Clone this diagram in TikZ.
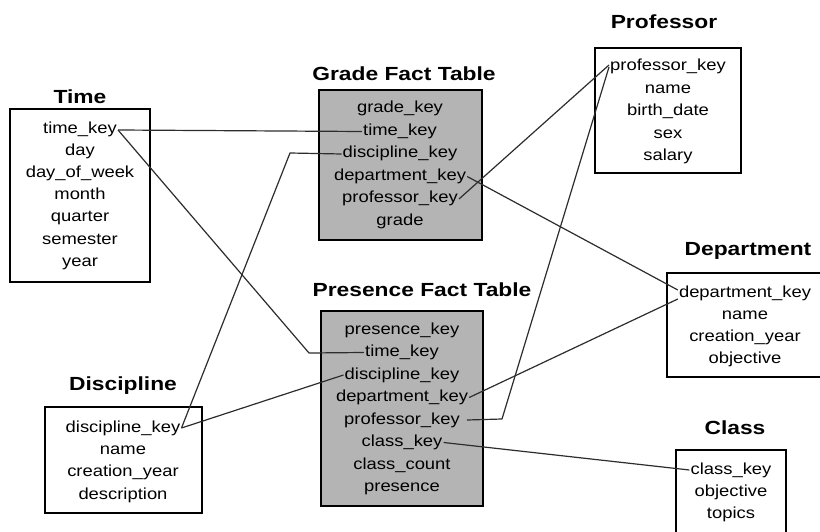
\documentclass[tikz,border=0pt]{standalone}
\usepackage{fontspec}
\setmainfont[FakeStretch=1.15]{Liberation Sans}
\newfontfamily\titlefont[FakeStretch=1.2]{Liberation Sans}
\definecolor{factgray}{RGB}{180,180,180}
\definecolor{linkgray}{RGB}{45,45,45}
\begin{document}
\begin{tikzpicture}[x=1pt,y=-1pt,
  tbl/.style={draw=black, line width=1.3pt, fill=white, inner sep=0pt, outer sep=0pt},
  facttbl/.style={tbl, fill=factgray},
  row/.style={font=\fontsize{16}{18}\selectfont, inner sep=1pt, text height=11.5pt, text depth=3.5pt},
  ttl/.style={font=\titlefont\bfseries\fontsize{19}{21}\selectfont, inner sep=0pt, text height=14pt, text depth=0pt},
  link/.style={draw=linkgray, line width=1.2pt, line join=round}]
\fill[white] (0,0) rectangle (820,532);
\useasboundingbox (0,0) rectangle (820,532);

% ---- Time dimension
\node[ttl] (time-t) at (80,97) {Time};
\node[tbl, minimum width=140pt, minimum height=173pt] (time) at (80,195.5) {};
\node[row] (t-key)  at (80,130) {time\_key};
\node[row] (t-day)  at (80,152) {day};
\node[row] (t-dow)  at (80,174) {day\_of\_week};
\node[row] (t-mon)  at (80,196) {month};
\node[row] (t-qtr)  at (80,218) {quarter};
\node[row] (t-sem)  at (80,240) {semester};
\node[row] (t-year) at (80,262) {year};

% ---- Grade fact table
\node[ttl] (grade-t) at (404,74) {Grade Fact Table};
\node[facttbl, minimum width=163pt, minimum height=150pt] (grade) at (400.5,165) {};
\node[row] (g-key)  at (400,109) {grade\_key};
\node[row] (g-time) at (400,131.5) {time\_key};
\node[row] (g-disc) at (400,154) {discipline\_key};
\node[row] (g-dept) at (400,176.5) {department\_key};
\node[row] (g-prof) at (400,199) {professor\_key};
\node[row] (g-grd)  at (400,221.5) {grade};

% ---- Presence fact table
\node[ttl] (pres-t) at (422,289) {Presence Fact Table};
\node[facttbl, minimum width=162pt, minimum height=195pt] (pres) at (402,408.5) {};
\node[row] (p-key)   at (402,330) {presence\_key};
\node[row] (p-time)  at (402,352.5) {time\_key};
\node[row] (p-disc)  at (402,375) {discipline\_key};
\node[row] (p-dept)  at (402,397.5) {department\_key};
\node[row] (p-prof)  at (402,420) {professor\_key};
\node[row] (p-class) at (402,442.5) {class\_key};
\node[row] (p-count) at (402,465) {class\_count};
\node[row] (p-pres)  at (402,487.5) {presence};

% ---- Professor dimension
\node[ttl] (prof-t) at (664,22) {Professor};
\node[tbl, minimum width=146pt, minimum height=125pt] (prof) at (668,110.5) {};
\node[row] (pr-key)  at (668,67) {professor\_key};
\node[row] (pr-name) at (668,89.5) {name};
\node[row] (pr-bd)   at (668,112) {birth\_date};
\node[row] (pr-sex)  at (668,134.5) {sex};
\node[row] (pr-sal)  at (668,157) {salary};

% ---- Department dimension (runs past the right edge)
\node[ttl] (dept-t) at (748,248) {Department};
\node[tbl, minimum width=170pt, minimum height=104pt] (dept) at (752,325) {};
\node[row] (dp-key)  at (745,293) {department\_key};
\node[row] (dp-name) at (745,315) {name};
\node[row] (dp-cy)   at (745,337) {creation\_year};
\node[row] (dp-obj)  at (745,359) {objective};

% ---- Discipline dimension
\node[ttl] (disc-t) at (123,383) {Discipline};
\node[tbl, minimum width=157pt, minimum height=106pt] (disc) at (123.5,460) {};
\node[row] (d-key)  at (123,428) {discipline\_key};
\node[row] (d-name) at (123,450) {name};
\node[row] (d-cy)   at (123,472.5) {creation\_year};
\node[row] (d-desc) at (123,495) {description};

% ---- Class dimension (runs past the bottom edge)
\node[ttl] (class-t) at (735,427) {Class};
\node[tbl, minimum width=110pt, minimum height=95pt] (class) at (731,497.5) {};
\node[row] (c-key)   at (731,470) {class\_key};
\node[row] (c-obj)   at (731,492) {objective};
\node[row] (c-top)   at (731,514.5) {topics};

% ---- bend points of the key links
\coordinate (bend-tp) at (309,353);
\coordinate (bend-dg) at (290,153);
\coordinate (bend-pp) at (502,419);

% ---- key links
\draw[link] (t-key.east) -- (g-time.west);
\draw[link] (t-key.east) -- (bend-tp) -- (p-time.west);
\draw[link] (d-key.east) -- (bend-dg) -- (g-disc.west);
\draw[link] (d-key.east) -- (p-disc.west);
\draw[link] (g-dept.east) -- ([yshift=3pt]dp-key.west);
\draw[link] (p-dept.east) -- ([yshift=-6pt]dp-key.west);
\draw[link] (g-prof.east) -- ([yshift=2pt]pr-key.west);
\draw[link] ([xshift=6pt]p-prof.east) -- (bend-pp) -- (pr-key.west);
\draw[link] (p-class.east) -- (c-key.west);
\end{tikzpicture}
\end{document}
